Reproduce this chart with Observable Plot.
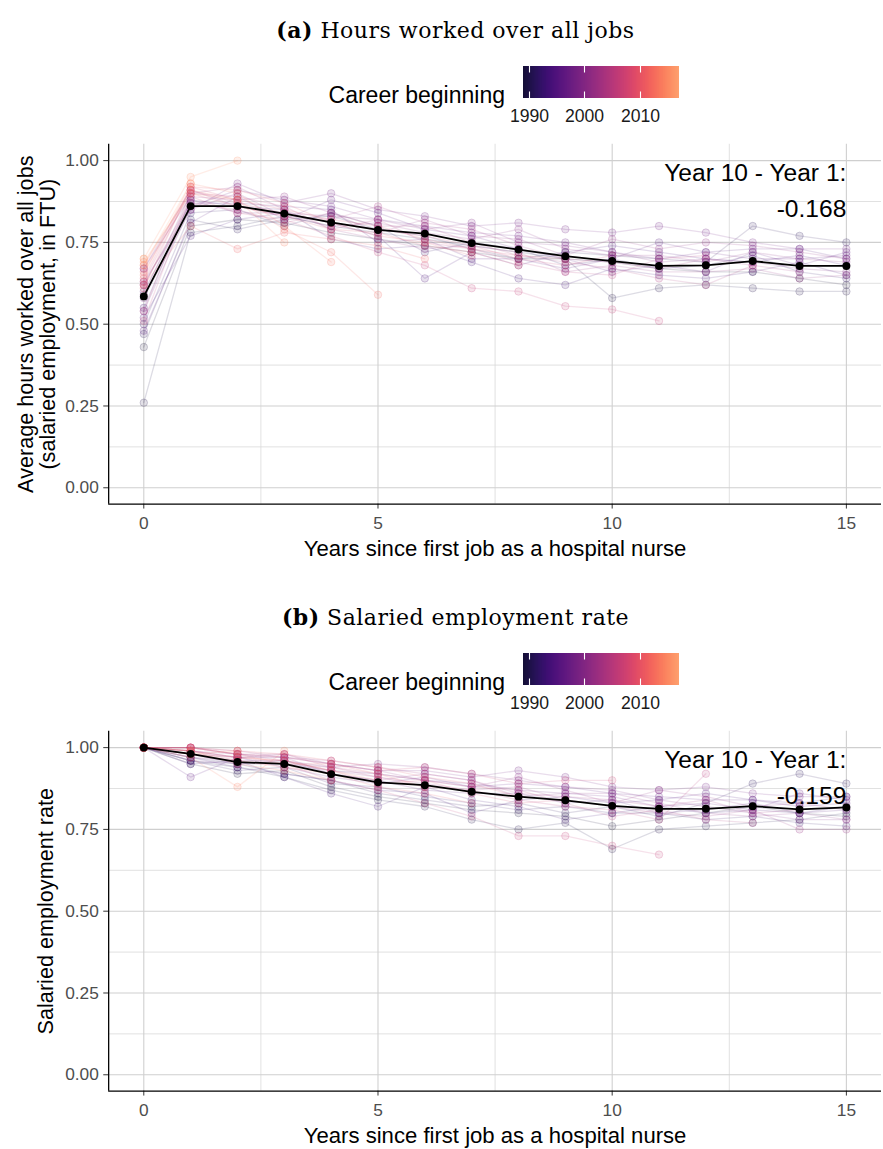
<!DOCTYPE html>
<html>
<head>
<meta charset="utf-8">
<script src="https://cdn.jsdelivr.net/npm/d3@7"></script>
<script src="https://cdn.jsdelivr.net/npm/@observablehq/plot@0.6"></script>
<style>
html,body{margin:0;padding:0;background:#fff;}
body{width:883px;height:1149px;overflow:hidden;position:relative;}
.panel{position:absolute;left:0;width:883px;height:587px;overflow:hidden;}
.title{position:absolute;left:0;width:911px;text-align:center;top:19px;font-family:"DejaVu Serif",serif;font-size:22px;line-height:22px;letter-spacing:0.5px;color:#000;white-space:nowrap;}
.legend-title{position:absolute;right:378px;top:84px;font-family:"Liberation Sans",Arial,sans-serif;font-size:23px;line-height:23px;white-space:nowrap;color:#000;}
.legend{position:absolute;left:503px;top:66px;}
.chart{position:absolute;left:0;top:130px;}
</style>
</head>
<body>
<script>
// ---------- data ----------
const years = [0,1,2,3,4,5,6,7,8,9,10,11,12,13,14,15];
const cohorts = [1989,1990,1991,1992,1993,1994,1995,1996,1997,1998,1999,2000,2001,2002,2003,2004,2005,2006,2007,2008,2009,2010,2011,2012,2013,2014,2015,2016,2017];

// Average hours worked over all jobs, one row per cohort (career beginning)
const hoursValues = [
  [0.43,0.80,0.82,0.81,0.78,0.76,0.74,0.72,0.70,0.70,0.69,0.67,0.66,0.66,0.64,0.62],
  [0.26,0.78,0.80,0.83,0.80,0.78,0.76,0.74,0.72,0.70,0.58,0.61,0.62,0.61,0.60,0.60],
  [0.47,0.82,0.79,0.82,0.83,0.79,0.77,0.73,0.70,0.72,0.71,0.70,0.69,0.80,0.77,0.75],
  [0.50,0.84,0.85,0.80,0.84,0.80,0.72,0.75,0.73,0.68,0.70,0.67,0.68,0.71,0.66,0.64],
  [0.55,0.88,0.86,0.85,0.76,0.73,0.74,0.69,0.64,0.62,0.67,0.65,0.64,0.66,0.69,0.65],
  [0.52,0.77,0.82,0.84,0.81,0.77,0.64,0.72,0.68,0.72,0.74,0.72,0.70,0.69,0.71,0.68],
  [0.60,0.87,0.87,0.86,0.85,0.75,0.76,0.70,0.70,0.67,0.70,0.75,0.72,0.73,0.73,0.70],
  [0.48,0.81,0.89,0.82,0.88,0.84,0.79,0.77,0.73,0.70,0.66,0.68,0.66,0.72,0.68,0.72],
  [0.54,0.86,0.91,0.88,0.86,0.82,0.80,0.78,0.77,0.75,0.72,0.70,0.72,0.70,0.70,0.71],
  [0.58,0.85,0.93,0.87,0.90,0.85,0.83,0.80,0.81,0.79,0.78,0.80,0.78,0.75,0.73,0.73],
  [0.62,0.88,0.84,0.84,0.83,0.82,0.79,0.81,0.75,0.74,0.72,0.69,0.70,0.69,0.67,0.66],
  [0.63,0.85,0.90,0.83,0.80,0.81,0.78,0.76,0.79,0.73,0.71,0.71,0.69,0.72,0.70,0.69],
  [0.67,0.89,0.88,0.89,0.84,0.78,0.82,0.77,0.76,0.71,0.76,0.73,0.75,0.74,0.72,0.70],
  [0.59,0.90,0.92,0.85,0.79,0.76,0.73,0.74,0.72,0.66,0.68,0.66,0.66,0.67,0.64,0.65],
  [0.67,0.91,0.86,0.83,0.82,0.86,0.81,0.79,0.74,0.70,0.69,0.67,0.70,0.68,0.66],
  [0.62,0.87,0.85,0.81,0.84,0.80,0.80,0.75,0.71,0.69,0.67,0.64,0.62,0.68],
  [0.54,0.90,0.89,0.86,0.79,0.82,0.75,0.73,0.69,0.66,0.65,0.70,0.71],
  [0.51,0.89,0.84,0.82,0.77,0.72,0.68,0.61,0.60,0.555,0.545,0.51],
  [0.63,0.91,0.87,0.84,0.81,0.79,0.77,0.74,0.70,0.68,0.71],
  [0.64,0.92,0.88,0.85,0.82,0.80,0.76,0.73,0.71,0.70],
  [0.66,0.90,0.86,0.83,0.79,0.78,0.74,0.72,0.68],
  [0.61,0.92,0.91,0.87,0.81,0.77,0.75,0.71],
  [0.62,0.80,0.73,0.78,0.76,0.74,0.70],
  [0.68,0.91,0.88,0.79,0.72,0.59],
  [0.65,0.93,0.90,0.80,0.69],
  [0.69,0.90,0.88,0.75],
  [0.70,0.95,1.00],
  [0.68,0.93],
  [0.70]
];

// Salaried employment rate, one row per cohort
const employmentValues = [
  [1,0.95,0.92,0.93,0.88,0.85,0.83,0.81,0.80,0.79,0.76,0.78,0.80,0.82,0.80,0.79],
  [1,0.96,0.94,0.91,0.87,0.84,0.82,0.78,0.75,0.77,0.69,0.75,0.76,0.77,0.78,0.80],
  [1,0.97,0.95,0.92,0.90,0.86,0.84,0.82,0.83,0.80,0.82,0.79,0.83,0.89,0.92,0.89],
  [1,0.96,0.93,0.94,0.89,0.88,0.85,0.83,0.81,0.82,0.80,0.80,0.78,0.79,0.77,0.76],
  [1,0.95,0.96,0.91,0.86,0.82,0.88,0.84,0.82,0.78,0.80,0.82,0.80,0.81,0.80,0.82],
  [1,0.97,0.94,0.92,0.90,0.87,0.86,0.80,0.84,0.85,0.83,0.84,0.86,0.84,0.83,0.85],
  [1,0.96,0.95,0.96,0.92,0.90,0.87,0.86,0.86,0.83,0.84,0.80,0.81,0.83,0.80,0.81],
  [1,0.91,0.97,0.94,0.91,0.89,0.91,0.88,0.89,0.88,0.86,0.85,0.84,0.84,0.82,0.83],
  [1,0.98,0.95,0.95,0.93,0.92,0.90,0.89,0.87,0.86,0.85,0.82,0.83,0.81,0.86,0.84],
  [1,0.98,0.97,0.97,0.95,0.93,0.93,0.91,0.93,0.91,0.88,0.87,0.88,0.86,0.85,0.85],
  [1,0.97,0.96,0.96,0.94,0.95,0.94,0.92,0.90,0.88,0.87,0.84,0.82,0.80,0.78,0.78],
  [1,0.99,0.98,0.97,0.92,0.90,0.92,0.90,0.85,0.86,0.86,0.83,0.80,0.79,0.80,0.78],
  [1,0.99,0.97,0.98,0.95,0.93,0.90,0.88,0.91,0.87,0.83,0.87,0.85,0.82,0.83,0.81],
  [1,1.00,0.98,0.96,0.93,0.91,0.89,0.87,0.88,0.84,0.82,0.80,0.79,0.81,0.75,0.75],
  [1,1.00,0.99,0.97,0.96,0.94,0.92,0.90,0.86,0.85,0.84,0.82,0.84,0.80,0.81],
  [1,0.99,0.97,0.95,0.94,0.92,0.90,0.88,0.87,0.83,0.79,0.81,0.78,0.77],
  [1,1.00,0.98,0.98,0.94,0.91,0.88,0.87,0.84,0.82,0.81,0.78,0.92],
  [1,0.99,0.96,0.95,0.90,0.87,0.83,0.79,0.73,0.73,0.70,0.673],
  [1,1.00,0.98,0.97,0.95,0.93,0.94,0.92,0.89,0.90,0.90],
  [1,0.99,0.97,0.96,0.93,0.89,0.90,0.86,0.83,0.84],
  [1,1.00,0.99,0.98,0.96,0.94,0.91,0.89,0.85],
  [1,0.98,0.96,0.94,0.92,0.88,0.86,0.83],
  [1,1.00,0.98,0.95,0.95,0.92,0.88],
  [1,0.98,0.97,0.96,0.93,0.90],
  [1,0.99,0.95,0.93,0.90],
  [1,0.97,0.88,0.99],
  [1,0.98,0.99],
  [1,0.99],
  [1]
];

const meanHours = [0.585,0.861,0.861,0.838,0.811,0.788,0.777,0.748,0.728,0.708,0.693,0.678,0.680,0.693,0.678,0.678];
const meanEmployment = [1.000,0.981,0.956,0.950,0.919,0.894,0.885,0.865,0.850,0.839,0.822,0.813,0.813,0.821,0.811,0.817];

const xTicks = [0,5,10,15];
const xMinorTicks = [2.5,7.5,12.5];
const yTicks = [0,0.25,0.5,0.75,1];
const yMinorTicks = [0.125,0.375,0.625,0.875];
const legendTicks = [1990,2000,2010];
const colorDomain = [1989,2017];
const xDomain = [-0.75,15.75];
const yDomain = [-0.05,1.05];

const panelTitles = [["(a)","Hours worked over all jobs"],["(b)","Salaried employment rate"]];
const yLabels = ["Average hours worked over all jobs\n(salaried employment, in FTU)","Salaried employment rate"];
const xLabel = "Years since first job as a hospital nurse";
const legendLabel = "Career beginning";

// ---------- drawing ----------
const FONT = '"Liberation Sans", Arial, Helvetica, sans-serif';
const magma = t => d3.interpolateMagma(0.1 + 0.7 * t);

function longData(values) {
  const out = [];
  values.forEach((row, i) => row.forEach((v, j) => out.push({cohort: cohorts[i], t: years[j], v})));
  return out;
}

function makeChart(values, mean, yLabel, yLabelDx) {
  const data = longData(values);
  const meanData = mean.map((v, j) => ({t: years[j], v}));
  const diff = (mean[10] - mean[1]).toFixed(3);
  const ann = [{t: years[years.length - 1], v: yTicks[yTicks.length - 1], label: `Year 10 - Year 1:\n${diff}`}];
  return Plot.plot({
    width: 898, height: 436,
    marginLeft: 110, marginRight: 2, marginTop: 14, marginBottom: 56,
    style: {fontFamily: FONT, fontSize: "17.6px", background: "transparent", overflow: "visible"},
    x: {domain: xDomain},
    y: {domain: yDomain},
    color: {type: "linear", domain: colorDomain, interpolate: magma},
    marks: [
      Plot.gridX({ticks: xMinorTicks, stroke: "#d9d9d9", strokeOpacity: 1, strokeWidth: 0.8}),
      Plot.gridY({ticks: yMinorTicks, stroke: "#d9d9d9", strokeOpacity: 1, strokeWidth: 0.8}),
      Plot.gridX({ticks: xTicks, stroke: "#cfcfcf", strokeOpacity: 1, strokeWidth: 1.1}),
      Plot.gridY({ticks: yTicks, stroke: "#cfcfcf", strokeOpacity: 1, strokeWidth: 1.1}),
      Plot.line(data, {x: "t", y: "v", z: "cohort", stroke: "cohort", strokeOpacity: 0.15, strokeWidth: 1.3}),
      Plot.dot(data, {x: "t", y: "v", fill: "cohort", stroke: "cohort", r: 3.8, fillOpacity: 0.13, strokeOpacity: 0.2, strokeWidth: 1}),
      Plot.line(meanData, {x: "t", y: "v", stroke: "black", strokeWidth: 1.8}),
      Plot.dot(meanData, {x: "t", y: "v", fill: "black", r: 4}),
      Plot.axisX({ticks: xTicks, tickSize: 5, tickPadding: 8, stroke: "#333", fill: "#4d4d4d", label: null}),
      Plot.axisY({ticks: yTicks, tickSize: 5, tickPadding: 5, tickFormat: d3.format(".2f"), stroke: "#333", fill: "#4d4d4d", label: null}),
      Plot.ruleX([xDomain[0]], {stroke: "black", strokeWidth: 1.3}),
      Plot.ruleY([yDomain[0]], {stroke: "black", strokeWidth: 1.3}),
      Plot.text(ann, {x: "t", y: "v", text: "label", textAnchor: "end", lineAnchor: "top", dy: -5.6, lineHeight: 1.48, fontSize: 25, fill: "black"}),
      Plot.text([xLabel], {frameAnchor: "bottom", textAnchor: "middle", lineAnchor: "middle", dy: 46, fontSize: 22.5, fill: "black"}),
      Plot.text([yLabel], {frameAnchor: "left", textAnchor: "middle", lineAnchor: "middle", rotate: -90, dx: yLabelDx, fontSize: 22, lineHeight: 1.0, fill: "black"})
    ]
  });
}

function makeLegend() {
  const barH = 32;
  const leg = Plot.legend({
    color: {type: "linear", domain: colorDomain, interpolate: magma},
    label: null,
    width: 196, height: 62,
    marginLeft: 20, marginRight: 20, marginTop: 0, marginBottom: 62 - barH,
    tickSize: 9,
    ticks: legendTicks,
    tickFormat: d => String(d),
    style: {fontFamily: FONT, fontSize: "17.6px", color: "#1a1a1a", background: "transparent", overflow: "visible"}
  });
  leg.querySelectorAll(".tick line").forEach(l => {
    l.setAttribute("y1", -barH);
    l.setAttribute("y2", 0);
    l.setAttribute("stroke", "white");
    l.setAttribute("stroke-width", "1.1");
    l.setAttribute("stroke-dasharray", "6.4 19.2 6.4");
  });
  return leg;
}

const panels = [
  {values: hoursValues, mean: meanHours, yLabel: yLabels[0], dx: -73, top: 0, title: panelTitles[0]},
  {values: employmentValues, mean: meanEmployment, yLabel: yLabels[1], dx: -64, top: 587, title: panelTitles[1]}
];

for (const p of panels) {
  const div = document.createElement("div");
  div.className = "panel";
  div.style.top = p.top + "px";
  const t = document.createElement("div");
  t.className = "title";
  const b = document.createElement("b");
  b.textContent = p.title[0];
  t.appendChild(b);
  t.appendChild(document.createTextNode(" " + p.title[1]));
  div.appendChild(t);
  const lt = document.createElement("div");
  lt.className = "legend-title";
  lt.textContent = legendLabel;
  div.appendChild(lt);
  const lg = document.createElement("div");
  lg.className = "legend";
  lg.appendChild(makeLegend());
  div.appendChild(lg);
  const ch = document.createElement("div");
  ch.className = "chart";
  ch.appendChild(makeChart(p.values, p.mean, p.yLabel, p.dx));
  div.appendChild(ch);
  document.body.appendChild(div);
}
</script>
</body>
</html>
